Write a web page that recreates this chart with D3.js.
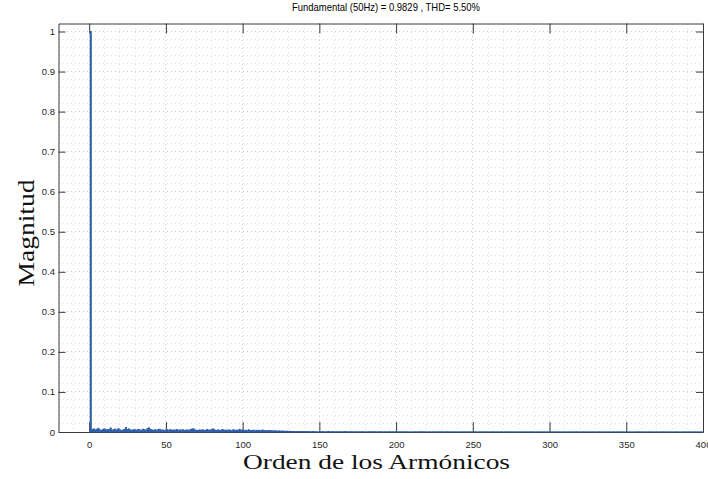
<!DOCTYPE html>
<html><head><meta charset="utf-8">
<script src="https://cdn.jsdelivr.net/npm/d3@7"></script>
<style>body{margin:0;background:#fff} svg{display:block}</style>
</head><body>
<svg id="chart" width="708" height="479"></svg>
<script>
const titleText = "Fundamental (50Hz) = 0.9829 , THD= 5.50%";
const xLabelText = "Orden de los Armónicos";
const yLabelText = "Magnitud";
const xTickValues = [0, 50, 100, 150, 200, 250, 300, 350, 400];
const xTickLabels = ["0", "50", "100", "150", "200", "250", "300", "350", "400"];
const yTickValues = [0, 0.1, 0.2, 0.3, 0.4, 0.5, 0.6, 0.7, 0.8, 0.9, 1];
const yTickLabels = ["0", "0.1", "0.2", "0.3", "0.4", "0.5", "0.6", "0.7", "0.8", "0.9", "1"];
// magnitude of each harmonic order, index = harmonic order (0..400)
const harmonicMagnitude = [
0, 1, 0.0062, 0.0081, 0.0054, 0.0072, 0.0093, 0.0058, 0.0041, 0.0069,
0.0078, 0.0052, 0.0067, 0.0059, 0.0102, 0.0043, 0.0061, 0.0074, 0.0049, 0.0083,
0.0057, 0.0038, 0.0051, 0.0071, 0.0112, 0.0064, 0.0079, 0.0052, 0.0044, 0.0061,
0.0053, 0.0047, 0.0068, 0.0056, 0.0042, 0.0073, 0.0059, 0.0048, 0.0087, 0.0104,
0.0066, 0.0051, 0.0045, 0.0058, 0.0039, 0.0062, 0.0071, 0.0047, 0.0053, 0.0036,
0.0049, 0.0057, 0.0043, 0.0061, 0.0038, 0.0052, 0.0046, 0.0067, 0.0041, 0.0055,
0.0044, 0.0059, 0.0037, 0.0048, 0.0053, 0.0042, 0.0063, 0.0074, 0.0082, 0.0051,
0.0046, 0.0039, 0.0055, 0.0043, 0.0058, 0.0036, 0.0049, 0.0062, 0.0045, 0.0052,
0.0068, 0.0077, 0.0048, 0.0041, 0.0056, 0.0035, 0.0047, 0.0064, 0.0043, 0.0051,
0.0038, 0.0054, 0.0046, 0.0033, 0.0059, 0.0042, 0.0049, 0.0037, 0.0071, 0.0044,
0.0052, 0.0039, 0.0047, 0.0034, 0.0056, 0.0041, 0.0036, 0.0048, 0.0031, 0.0043,
0.0037, 0.0045, 0.0029, 0.0051, 0.0034, 0.0039, 0.0027, 0.0042, 0.0031, 0.0036,
0.0025, 0.0033, 0.0028, 0.0022, 0.0031, 0.0019, 0.0026, 0.0021, 0.0017, 0.0023,
0.0015, 0.0019, 0.0012, 0.0016, 0.0011, 0.0014, 0.0009, 0.0013, 0.0010, 0.0012,
0.0008, 0.0011, 0.0007, 0.0010, 0.0006, 0.0009, 0.0012, 0.0007, 0.0008, 0.0005,
0.0009, 0.0006, 0.0010, 0.0007, 0.0005, 0.0008, 0.0011, 0.0006, 0.0007, 0.0009,
0.0005, 0.0008, 0.0006, 0.0009, 0.0007, 0.0004, 0.0008, 0.0010, 0.0006, 0.0005,
0.0007, 0.0009, 0.0005, 0.0006, 0.0008, 0.0004, 0.0007, 0.0006, 0.0009, 0.0005,
0.0006, 0.0004, 0.0008, 0.0007, 0.0005, 0.0009, 0.0006, 0.0004, 0.0007, 0.0005,
0.0008, 0.0006, 0.0004, 0.0007, 0.0005, 0.0006, 0.0009, 0.0004, 0.0006, 0.0005,
0.0007, 0.0004, 0.0006, 0.0005, 0.0008, 0.0004, 0.0006, 0.0007, 0.0003, 0.0005,
0.0006, 0.0004, 0.0007, 0.0005, 0.0003, 0.0006, 0.0005, 0.0008, 0.0004, 0.0006,
0.0005, 0.0003, 0.0006, 0.0004, 0.0007, 0.0005, 0.0003, 0.0006, 0.0004, 0.0005,
0.0006, 0.0004, 0.0003, 0.0007, 0.0005, 0.0004, 0.0006, 0.0003, 0.0005, 0.0004,
0.0006, 0.0003, 0.0005, 0.0004, 0.0007, 0.0003, 0.0004, 0.0006, 0.0005, 0.0003,
0.0005, 0.0004, 0.0006, 0.0003, 0.0004, 0.0005, 0.0003, 0.0006, 0.0004, 0.0005,
0.0003, 0.0005, 0.0004, 0.0006, 0.0003, 0.0004, 0.0005, 0.0003, 0.0004, 0.0006,
0.0004, 0.0003, 0.0005, 0.0004, 0.0003, 0.0006, 0.0004, 0.0003, 0.0005, 0.0004,
0.0003, 0.0005, 0.0004, 0.0003, 0.0004, 0.0006, 0.0003, 0.0004, 0.0005, 0.0003,
0.0004, 0.0003, 0.0005, 0.0004, 0.0003, 0.0004, 0.0005, 0.0003, 0.0004, 0.0003,
0.0005, 0.0003, 0.0004, 0.0003, 0.0005, 0.0004, 0.0003, 0.0004, 0.0003, 0.0005,
0.0004, 0.0003, 0.0004, 0.0005, 0.0003, 0.0004, 0.0003, 0.0004, 0.0005, 0.0003,
0.0004, 0.0003, 0.0005, 0.0003, 0.0004, 0.0003, 0.0004, 0.0005, 0.0003, 0.0004,
0.0003, 0.0004, 0.0003, 0.0005, 0.0004, 0.0003, 0.0004, 0.0003, 0.0004, 0.0005,
0.0003, 0.0004, 0.0003, 0.0004, 0.0003, 0.0005, 0.0004, 0.0003, 0.0004, 0.0003,
0.0004, 0.0003, 0.0005, 0.0003, 0.0004, 0.0003, 0.0004, 0.0003, 0.0005, 0.0004,
0.0003, 0.0004, 0.0003, 0.0004, 0.0003, 0.0004, 0.0005, 0.0003, 0.0004, 0.0003,
0.0004, 0.0003, 0.0004, 0.0003, 0.0005, 0.0003, 0.0004, 0.0003, 0.0004, 0.0003,
0.0004, 0.0003, 0.0004, 0.0005, 0.0003, 0.0004, 0.0003, 0.0004, 0.0003, 0.0004,
0.0003, 0.0004, 0.0003, 0.0004, 0.0003, 0.0005, 0.0003, 0.0004, 0.0003, 0.0004,
0.0003
];

const W = 708, H = 479;
const L = 58.5, R = 703, T = 23.5, B = 432;
const svg = d3.select("#chart");
svg.append("rect").attr("width", W).attr("height", H).attr("fill", "#fff");

const x = d3.scaleLinear().domain([-20, 400]).range([L, R]);
const y = d3.scaleLinear().domain([0, 1.02]).range([B, T]);

const tickFont = '"Liberation Sans Narrow","Arial Narrow","Liberation Sans",Arial,sans-serif';
const axisColor = "#3a3a3a";

// grid
const grid = svg.append("g");
const xMinor = d3.range(-10, 400, 10);
const yMinor = d3.range(1, 51).map(k => k * 0.02);
grid.selectAll(".gx").data(xMinor).join("line")
  .attr("x1", d => x(d)).attr("x2", d => x(d)).attr("y1", T).attr("y2", B)
  .attr("stroke", d => d % 50 === 0 ? "#cccccc" : "#e0e0e0")
  .attr("stroke-width", 1).attr("stroke-dasharray", "1,3")
  .attr("shape-rendering", "crispEdges");
grid.selectAll(".gy").data(yMinor).join("line")
  .attr("x1", L).attr("x2", R).attr("y1", d => y(d)).attr("y2", d => y(d))
  .attr("stroke", (d, i) => (i + 1) % 5 === 0 ? "#cccccc" : "#e0e0e0")
  .attr("stroke-width", 1).attr("stroke-dasharray", "1,3")
  .attr("shape-rendering", "crispEdges");

// axes
function styleAxis(g) {
  g.selectAll("path").attr("stroke", axisColor).attr("stroke-width", 1);
  g.selectAll("line").attr("stroke", axisColor).attr("stroke-width", 1);
  g.selectAll("text").attr("fill", "#262626").attr("font-family", tickFont)
    .attr("font-size", 9.5).attr("font-stretch", "condensed");
}
const gx = svg.append("g").attr("transform", `translate(0,${B})`)
  .call(d3.axisBottom(x).tickValues(xTickValues).tickFormat((d, i) => xTickLabels[i])
    .tickSizeInner(-10).tickSizeOuter(0).tickPadding(9));
styleAxis(gx);
const gxt = svg.append("g").attr("transform", `translate(0,${T})`)
  .call(d3.axisTop(x).tickValues(xTickValues).tickFormat("").tickSizeInner(-10).tickSizeOuter(0));
styleAxis(gxt);
const gy = svg.append("g").attr("transform", `translate(${L},0)`)
  .call(d3.axisLeft(y).tickValues(yTickValues).tickFormat((d, i) => yTickLabels[i])
    .tickSizeInner(-7).tickSizeOuter(0).tickPadding(3.5));
styleAxis(gy);
const gyr = svg.append("g").attr("transform", `translate(${R},0)`)
  .call(d3.axisRight(y).tickValues(yTickValues).tickFormat("").tickSizeInner(-7).tickSizeOuter(0));
styleAxis(gyr);

// bars
const barColor = "#2c5ca8";
svg.append("g").selectAll("rect").data(harmonicMagnitude).join("rect")
  .attr("x", (d, i) => x(i - 0.4))
  .attr("width", (d, i) => x(i + 0.4) - x(i - 0.4))
  .attr("y", d => y(d))
  .attr("height", d => y(0) - y(d))
  .attr("fill", barColor).attr("stroke", barColor).attr("stroke-width", 0.8);

// title
svg.append("text").attr("x", 386).attr("y", 10.5).attr("text-anchor", "middle")
  .attr("font-family", tickFont).attr("font-stretch", "condensed")
  .attr("font-size", 10.5).attr("fill", "#000")
  .attr("textLength", 188).attr("lengthAdjust", "spacingAndGlyphs")
  .text(titleText);

// x label
svg.append("text").attr("x", 376.5).attr("y", 468.5).attr("text-anchor", "middle")
  .attr("font-family", '"Liberation Serif","Times New Roman",serif')
  .attr("font-size", 22).attr("fill", "#111")
  .attr("textLength", 267).attr("lengthAdjust", "spacingAndGlyphs")
  .text(xLabelText);

// y label
svg.append("text").attr("transform", "translate(34,233) rotate(-90)")
  .attr("text-anchor", "middle")
  .attr("font-family", '"Liberation Serif","Times New Roman",serif')
  .attr("font-size", 24).attr("fill", "#111")
  .attr("textLength", 107).attr("lengthAdjust", "spacingAndGlyphs")
  .text(yLabelText);
</script>
</body></html>
